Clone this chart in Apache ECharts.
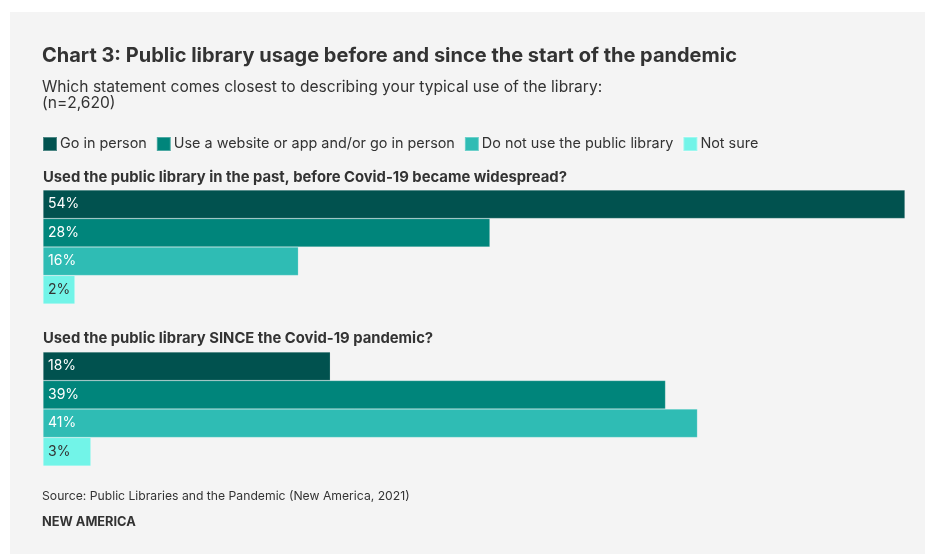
<!DOCTYPE html>
<html>
<head>
<meta charset="utf-8">
<script src="https://cdn.jsdelivr.net/npm/echarts@6/dist/echarts.min.js"></script>
<style>
  html, body { margin: 0; padding: 0; background: #ffffff; }
  #panel { position: absolute; left: 10px; top: 12px; width: 915px; height: 542px; background: #f4f4f4; }
  #chart { position: absolute; left: 0; top: 0; width: 925px; height: 554px; }
</style>
</head>
<body>
<div id="panel"></div>
<div id="chart"></div>
<script>
const categories = ['Go in person', 'Use a website or app and/or go in person', 'Do not use the public library', 'Not sure'];
const beforeValues = [54, 28, 16, 2];
const sinceValues = [18, 39, 41, 3];
const groupTitles = ['Used the public library in the past, before Covid-19 became widespread?', 'Used the public library SINCE the Covid-19 pandemic?'];
const colors = ['#01524f', '#00857b', '#2fbcb4', '#72f4e8'];
const labelColors = ['#ffffff', '#ffffff', '#ffffff', '#333333'];

const FONT = 'Inter, Roboto, "Noto Sans", sans-serif';
const chart = echarts.init(document.getElementById('chart'), null, { renderer: 'canvas' });

const grids = [
  { left: 43, width: 862, top: 190, height: 114 },
  { left: 43, width: 862, top: 352, height: 114 }
];
const groups = [beforeValues, sinceValues];

const series = [];
groups.forEach((vals, g) => {
  categories.forEach((name, i) => {
    series.push({
      name: name,
      type: 'bar',
      xAxisIndex: g,
      yAxisIndex: g,
      stack: 'g' + g,
      barCategoryGap: 0,
      data: categories.map((c, j) => (j === i ? vals[j] : '-')),
      itemStyle: { color: colors[i], borderColor: 'rgba(255,255,255,0.3)', borderWidth: 0.6 },
      label: {
        show: true,
        position: 'insideLeft',
        distance: 5,
        formatter: '{c}%',
        color: labelColors[i],
        fontFamily: FONT,
        fontSize: 14
      },
      emphasis: { disabled: true },
      animation: false
    });
  });
});

const option = {
  animation: false,
  backgroundColor: 'transparent',
  title: [
    { text: 'Chart 3: Public library usage before and since the start of the pandemic', left: 42, top: 46, padding: 0,
      textStyle: { fontFamily: FONT, fontSize: 20, fontWeight: 'bold', color: '#333333' } },
    { text: 'Which statement comes closest to describing your typical use of the library:\n(n=2,620)', left: 42, top: 79, padding: 0,
      textStyle: { fontFamily: FONT, fontSize: 15.6, fontWeight: 'normal', color: '#333333', lineHeight: 16 } },
    { text: groupTitles[0], left: 43, top: 170, padding: 0,
      textStyle: { fontFamily: FONT, fontSize: 14.8, fontWeight: 'bold', color: '#333333' } },
    { text: groupTitles[1], left: 43, top: 331, padding: 0,
      textStyle: { fontFamily: FONT, fontSize: 14.8, fontWeight: 'bold', color: '#333333' } },
    { text: 'Source: Public Libraries and the Pandemic (New America, 2021)', left: 42, top: 490, padding: 0,
      textStyle: { fontFamily: FONT, fontSize: 12.2, fontWeight: 'normal', color: '#333333' } },
    { text: 'NEW AMERICA', left: 42, top: 516, padding: 0,
      textStyle: { fontFamily: FONT, fontSize: 12.8, fontWeight: 'bold', color: '#333333' } }
  ],
  legend: {
    data: categories,
    left: 42, top: 136, padding: 0,
    itemWidth: 14, itemHeight: 14, itemGap: 9,
    icon: 'rect',
    selectedMode: false,
    textStyle: { fontFamily: FONT, fontSize: 14.4, color: '#333333', padding: [0, 0, 0, -2] }
  },
  grid: grids,
  xAxis: grids.map((g, i) => ({ type: 'value', gridIndex: i, min: 0, max: 54, show: false })),
  yAxis: grids.map((g, i) => ({ type: 'category', gridIndex: i, data: categories, inverse: true, show: false })),
  series: series
};
chart.setOption(option);
</script>
</body>
</html>
